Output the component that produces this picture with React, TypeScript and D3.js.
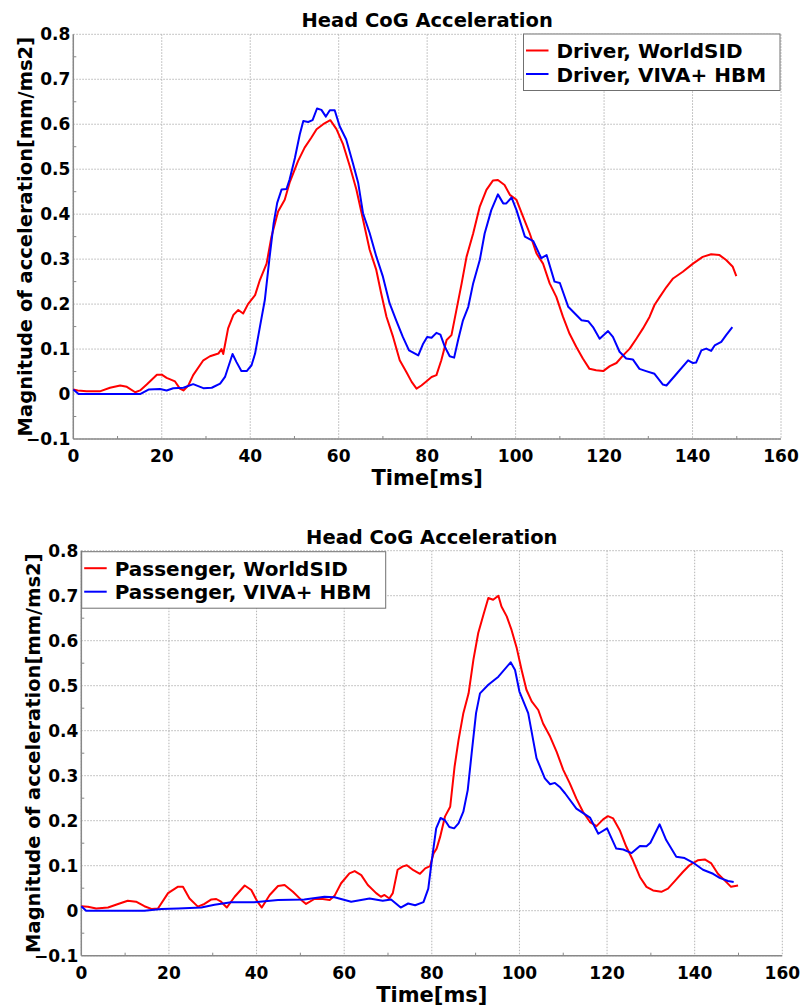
import React, { useEffect, useRef } from "react";
import * as d3 from "d3";

// time [ms], acceleration magnitude [mm/ms2]
const driverWorldSid: [number, number][] = [
  [0, 0.01], [1, 0.008], [3, 0.006], [6, 0.006], [8.3, 0.014], [10.6, 0.019], [12.1, 0.016], [14, 0.004],
  [15.1, 0.008], [16.6, 0.021], [18.9, 0.043], [20, 0.043], [21.1, 0.036], [23, 0.028], [24.1, 0.012],
  [24.9, 0.008], [26, 0.019], [27.1, 0.042], [29.4, 0.075], [30.9, 0.084], [32.8, 0.09], [33.5, 0.1],
  [33.9, 0.089], [35, 0.146], [36.2, 0.176], [37.3, 0.187], [38.4, 0.179], [39.5, 0.2], [41.1, 0.22],
  [42.2, 0.254], [43.7, 0.29], [44.8, 0.35], [46.3, 0.406], [47.8, 0.432], [48.9, 0.47], [50.8, 0.518],
  [52.3, 0.548], [53.8, 0.57], [55, 0.589], [56.5, 0.6], [58.1, 0.609], [59.5, 0.589], [61, 0.555],
  [62.5, 0.507], [64, 0.455], [65.5, 0.388], [67, 0.321], [68.5, 0.276], [69.6, 0.224], [70.8, 0.172],
  [72.3, 0.127], [73.8, 0.075], [75.3, 0.049], [76.5, 0.027], [77.6, 0.012], [78.7, 0.019], [79.8, 0.028],
  [81, 0.038], [82.1, 0.042], [83.2, 0.075], [84.4, 0.12], [85.5, 0.131], [86.6, 0.186], [87.8, 0.246],
  [88.9, 0.305], [90.4, 0.357], [91.9, 0.417], [93.4, 0.454], [94.9, 0.475], [96, 0.476], [97.5, 0.465],
  [98.7, 0.443], [100.2, 0.432], [101.7, 0.394], [103.2, 0.357], [104.7, 0.313], [106.2, 0.29],
  [107.7, 0.246], [109.2, 0.216], [110.7, 0.172], [112.2, 0.134], [113.7, 0.105], [115.2, 0.079],
  [116.7, 0.056], [118.2, 0.053], [119.8, 0.051], [121.3, 0.062], [122.8, 0.069], [124.3, 0.086],
  [125.8, 0.101], [127.3, 0.123], [128.8, 0.146], [130.3, 0.172], [131.4, 0.198], [132.6, 0.216],
  [134.1, 0.238], [135.6, 0.257], [137.8, 0.272], [140.1, 0.29], [142.3, 0.305], [144.2, 0.311],
  [146.1, 0.309], [147.6, 0.298], [149.1, 0.283], [149.9, 0.262],
];

const driverViva: [number, number][] = [
  [0, 0.01], [1.2, 0], [15.1, 0], [17, 0.01], [19.6, 0.011], [21.1, 0.008], [22.6, 0.013], [24.9, 0.014],
  [27.1, 0.022], [29.4, 0.013], [31.3, 0.014], [33.2, 0.023], [34.3, 0.038], [36, 0.089], [36.9, 0.071],
  [38, 0.051], [39.2, 0.051], [40.3, 0.064], [41.1, 0.09], [42.2, 0.15], [43.3, 0.209], [44.4, 0.306],
  [45.3, 0.38], [46.1, 0.425], [47.1, 0.455], [48.2, 0.456], [48.9, 0.477], [50.1, 0.525], [51.2, 0.577],
  [52, 0.607], [53.1, 0.605], [54.1, 0.609], [55.1, 0.635], [56.1, 0.632], [57.1, 0.617], [58, 0.631],
  [59.1, 0.631], [60.2, 0.596], [61.7, 0.566], [63.2, 0.514], [64.4, 0.47], [65.5, 0.402], [67, 0.358],
  [68.5, 0.306], [70, 0.261], [71.5, 0.202], [73, 0.164], [74.5, 0.127], [75.9, 0.097], [78, 0.086],
  [79.1, 0.112], [80, 0.127], [81, 0.125], [82.1, 0.136], [83, 0.132], [84, 0.105], [85.1, 0.084],
  [86.1, 0.081], [87, 0.12], [88.1, 0.164], [89.3, 0.194], [90.4, 0.246], [91.9, 0.298], [93, 0.357],
  [94.5, 0.409], [96, 0.444], [97.2, 0.424], [97.9, 0.424], [99.1, 0.437], [100.2, 0.409], [102.1, 0.35],
  [104, 0.34], [105.8, 0.302], [107, 0.309], [108.8, 0.25], [110, 0.247], [111.9, 0.194], [114.9, 0.164],
  [116.4, 0.162], [117.5, 0.149], [119, 0.123], [120.9, 0.14], [122, 0.127], [123.5, 0.094], [125, 0.079],
  [126.5, 0.077], [128, 0.056], [129.5, 0.051], [131.4, 0.045], [133.3, 0.021], [134.1, 0.019],
  [136.3, 0.044], [139, 0.075], [140.1, 0.069], [140.8, 0.07], [142, 0.097], [143.1, 0.101], [144.2, 0.096],
  [145, 0.108], [146.5, 0.116], [147.6, 0.131], [149, 0.149],
];

const passengerWorldSid: [number, number][] = [
  [0, 0.01], [1.5, 0.009], [3.4, 0.005], [6.1, 0.007], [8.4, 0.015], [10.6, 0.022], [12.5, 0.02],
  [14.4, 0.01], [16, 0.004], [17.5, 0.005], [19.8, 0.039], [22, 0.053], [23.2, 0.053], [24.7, 0.027],
  [26.6, 0.009], [28.1, 0.015], [29.7, 0.025], [30.8, 0.026], [31.9, 0.02], [33.2, 0.007], [35, 0.031],
  [37.3, 0.056], [38.8, 0.046], [40.2, 0.02], [41.2, 0.007], [43, 0.035], [44.9, 0.055], [46.4, 0.057],
  [48.3, 0.042], [50.2, 0.024], [51.3, 0.015], [53.2, 0.026], [55.1, 0.026], [56.7, 0.024], [57.8, 0.033],
  [59.3, 0.061], [61.2, 0.083], [62.4, 0.088], [63.9, 0.079], [65.4, 0.057], [67.3, 0.039], [68.4, 0.031],
  [69.2, 0.035], [70.3, 0.027], [71.1, 0.039], [72.2, 0.091], [73.3, 0.098], [74.3, 0.101], [75.8, 0.09],
  [77.3, 0.082], [78.5, 0.094], [79.6, 0.099], [80.4, 0.127], [81.1, 0.138], [81.9, 0.164], [83, 0.209],
  [84.2, 0.231], [85.2, 0.32], [86.1, 0.379], [87.2, 0.439], [88.4, 0.483], [89.5, 0.558], [90.6, 0.617],
  [91.8, 0.658], [92.9, 0.695], [94, 0.691], [95.2, 0.7], [95.9, 0.676], [97.1, 0.654], [98.2, 0.624],
  [99.4, 0.583], [100.5, 0.535], [101.6, 0.491], [102.8, 0.465], [104.3, 0.446], [105.4, 0.416],
  [107, 0.387], [108.5, 0.353], [110, 0.313], [111.5, 0.283], [113, 0.249], [114.5, 0.22], [116.1, 0.197],
  [117.6, 0.188], [119.1, 0.203], [120.2, 0.21], [121.4, 0.205], [122.9, 0.179], [124.4, 0.142],
  [125.9, 0.112], [127.5, 0.075], [129, 0.053], [130.5, 0.045], [132.4, 0.042], [133.9, 0.049],
  [135.4, 0.065], [137.3, 0.086], [138.8, 0.101], [140.7, 0.112], [142.3, 0.114], [143.8, 0.105],
  [145.3, 0.082], [146.8, 0.068], [148.3, 0.053], [149.9, 0.056],
];

const passengerViva: [number, number][] = [
  [0, 0.01], [1.1, 0], [14.4, 0], [18.3, 0.004], [22.1, 0.005], [27.4, 0.007], [30.4, 0.013], [34.2, 0.019],
  [39.5, 0.019], [44.9, 0.024], [50.9, 0.025], [55.5, 0.031], [57.8, 0.03], [61.6, 0.02], [65.8, 0.027],
  [68.8, 0.022], [70.7, 0.025], [72.9, 0.007], [74.6, 0.016], [76.2, 0.012], [78.1, 0.019], [79.2, 0.049],
  [80, 0.112], [81, 0.183], [82, 0.206], [83, 0.201], [84, 0.186], [85.1, 0.183], [86.1, 0.194],
  [87.2, 0.22], [88.2, 0.268], [89.1, 0.35], [90.1, 0.439], [91, 0.483], [92.9, 0.502], [95.2, 0.52],
  [98, 0.552], [99, 0.535], [100, 0.487], [102, 0.439], [103.9, 0.339], [105.8, 0.294], [107, 0.281],
  [108.1, 0.284], [109.2, 0.275], [110.4, 0.261], [113, 0.227], [116.1, 0.207], [118, 0.171], [120, 0.183],
  [122.1, 0.138], [123.7, 0.136], [125.6, 0.128], [127.5, 0.144], [129, 0.143], [129.9, 0.151],
  [132, 0.192], [133.5, 0.157], [135.8, 0.12], [137.7, 0.117], [139.6, 0.107], [141.9, 0.091],
  [144.2, 0.082], [145.7, 0.073], [147.6, 0.066], [148.9, 0.064],
];

const xTicks = [0, 20, 40, 60, 80, 100, 120, 140, 160];
const yTicks = [-0.1, 0, 0.1, 0.2, 0.3, 0.4, 0.5, 0.6, 0.7, 0.8];
const chartTitle = "Head CoG Acceleration";
const xTitle = "Time[ms]";
const yTitle = "Magnitude of acceleration[mm/ms2]";

const FONT = "DejaVu Sans, Verdana, sans-serif";

const panels = [
  {
    left: 73.3, right: 781, top: 34.3, bottom: 439,
    series: [
      { name: "Driver, WorldSID", data: driverWorldSid, color: "#ff0000" },
      { name: "Driver, VIVA+ HBM", data: driverViva, color: "#0000ff" },
    ],
    legend: { x: 523.5, y: 34, w: 256.5, h: 56.5 },
  },
  {
    left: 81.3, right: 782.3, top: 550.7, bottom: 955.7,
    series: [
      { name: "Passenger, WorldSID", data: passengerWorldSid, color: "#ff0000" },
      { name: "Passenger, VIVA+ HBM", data: passengerViva, color: "#0000ff" },
    ],
    legend: { x: 81.7, y: 551.7, w: 304, h: 56.5 },
  },
];

const App = () => {
  const svgRef = useRef<SVGSVGElement>(null);

  useEffect(() => {
    const svg = d3.select(svgRef.current);
    svg.selectAll("*").remove();

    panels.forEach((p) => {
      const x = d3.scaleLinear().domain([0, 160]).range([p.left, p.right]);
      const y = d3.scaleLinear().domain([-0.1, 0.8]).range([p.bottom, p.top]);
      const g = svg.append("g");

      // grid
      g.selectAll("line.gx")
        .data(xTicks)
        .enter()
        .append("line")
        .attr("x1", (d) => x(d)).attr("x2", (d) => x(d))
        .attr("y1", p.top).attr("y2", p.bottom)
        .attr("stroke", "#b4b4b4").attr("stroke-width", 1).attr("stroke-dasharray", "1.5,1.5");
      g.selectAll("line.gy")
        .data(yTicks)
        .enter()
        .append("line")
        .attr("x1", p.left).attr("x2", p.right)
        .attr("y1", (d) => y(d)).attr("y2", (d) => y(d))
        .attr("stroke", "#b4b4b4").attr("stroke-width", 1).attr("stroke-dasharray", "1.5,1.5");

      // minor ticks (inside)
      const xMinor = d3.range(10, 160, 20);
      const yMinor = d3.range(-0.05, 0.8, 0.1);
      g.selectAll("line.mx")
        .data(xMinor)
        .enter()
        .append("line")
        .attr("x1", (d) => x(d)).attr("x2", (d) => x(d))
        .attr("y1", p.bottom).attr("y2", p.bottom - 3)
        .attr("stroke", "#888").attr("stroke-width", 1);
      g.selectAll("line.my")
        .data(yMinor)
        .enter()
        .append("line")
        .attr("x1", p.left).attr("x2", p.left + 3)
        .attr("y1", (d) => y(d)).attr("y2", (d) => y(d))
        .attr("stroke", "#888").attr("stroke-width", 1);

      // axes lines
      g.append("line")
        .attr("x1", p.left).attr("x2", p.left).attr("y1", p.top).attr("y2", p.bottom)
        .attr("stroke", "#888").attr("stroke-width", 1.5);
      g.append("line")
        .attr("x1", p.left).attr("x2", p.right).attr("y1", p.bottom).attr("y2", p.bottom)
        .attr("stroke", "#888").attr("stroke-width", 1.5);

      // tick labels
      g.selectAll("text.xt")
        .data(xTicks)
        .enter()
        .append("text")
        .attr("x", (d) => x(d)).attr("y", p.bottom + 23)
        .attr("text-anchor", "middle")
        .style("font-family", FONT).style("font-weight", "bold").style("font-size", "17px")
        .text((d) => d3.format("d")(d));
      g.selectAll("text.yt")
        .data(yTicks)
        .enter()
        .append("text")
        .attr("x", p.left - 3).attr("y", (d) => y(d) + 6)
        .attr("text-anchor", "end")
        .style("font-family", FONT).style("font-weight", "bold").style("font-size", "17px")
        .text((d) => (Math.abs(d) < 1e-9 ? "0" : d3.format(".1f")(d)));

      // titles
      const cx = (p.left + p.right) / 2;
      g.append("text")
        .attr("x", cx).attr("y", p.top - 7)
        .attr("text-anchor", "middle")
        .style("font-family", FONT).style("font-weight", "bold").style("font-size", "19.5px")
        .text(chartTitle);
      g.append("text")
        .attr("x", cx).attr("y", p.bottom + 46)
        .attr("text-anchor", "middle")
        .style("font-family", FONT).style("font-weight", "bold").style("font-size", "21px")
        .text(xTitle);
      g.append("text")
        .attr("transform", `translate(${p.left - 41},${(p.top + p.bottom) / 2}) rotate(-90)`)
        .attr("text-anchor", "middle")
        .style("font-family", FONT).style("font-weight", "bold").style("font-size", "19.5px")
        .text(yTitle);

      // curves
      const line = d3.line<[number, number]>().x((d) => x(d[0])).y((d) => y(d[1]));
      p.series.forEach((s) => {
        g.append("path")
          .attr("d", line(s.data))
          .attr("fill", "none")
          .attr("stroke", s.color)
          .attr("stroke-width", 2)
          .attr("stroke-linejoin", "round");
      });

      // legend
      const L = p.legend;
      g.append("rect")
        .attr("x", L.x).attr("y", L.y).attr("width", L.w).attr("height", L.h)
        .attr("fill", "white").attr("stroke", "#707070").attr("stroke-width", 1);
      p.series.forEach((s, i) => {
        const ly = L.y + 16.5 + i * 23.5;
        g.append("line")
          .attr("x1", L.x + 2.5).attr("x2", L.x + 25)
          .attr("y1", ly).attr("y2", ly)
          .attr("stroke", s.color).attr("stroke-width", 2);
        g.append("text")
          .attr("x", L.x + 33).attr("y", ly + 7.5)
          .style("font-family", FONT).style("font-weight", "bold").style("font-size", "20px")
          .text(s.name);
      });
    });
  }, []);

  return (
    <svg
      ref={svgRef}
      width={802}
      height={1008}
      style={{ position: "absolute", left: 0, top: 0, background: "white" }}
    ></svg>
  );
};

export default App;
